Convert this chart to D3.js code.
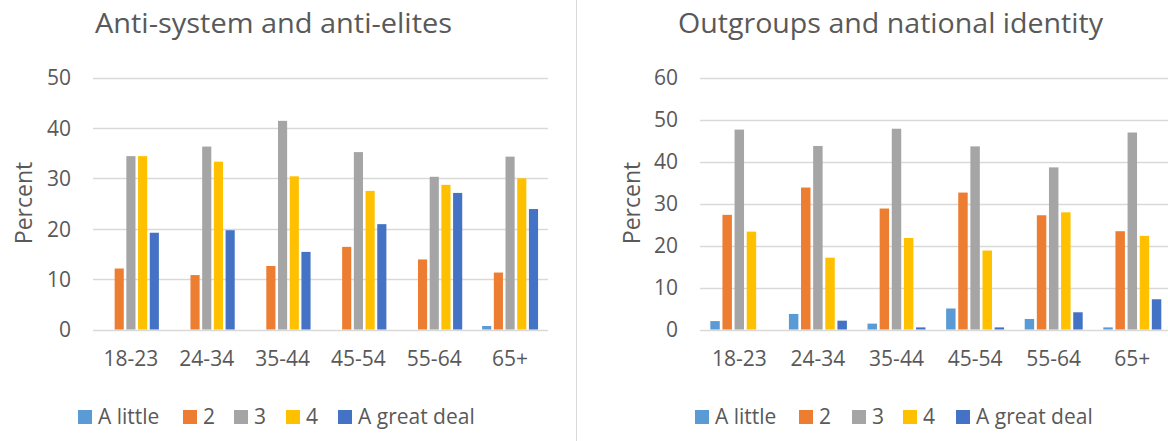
<!DOCTYPE html>
<html>
<head>
<meta charset="utf-8">
<script src="https://d3js.org/d3.v7.min.js"></script>
<style>
  body { margin: 0; background: #fff; }
  text { font-family: "Open Sans", "Noto Sans", sans-serif; fill: #595959; }
</style>
</head>
<body>
<svg width="1168" height="441"></svg>
<script>
// data
var ageGroups = ["18-23", "24-34", "35-44", "45-54", "55-64", "65+"];
var seriesNames = ["A little", "2", "3", "4", "A great deal"];
var seriesColors = ["#5B9BD5", "#ED7D31", "#A5A5A5", "#FFC000", "#4472C4"];

// Anti-system and anti-elites, one array per series (by age group)
var antiLittle = [0, 0, 0, 0, 0, 0.7];
var anti2      = [12.1, 10.8, 12.6, 16.4, 13.9, 11.3];
var anti3      = [34.4, 36.3, 41.4, 35.2, 30.3, 34.3];
var anti4      = [34.4, 33.3, 30.4, 27.5, 28.7, 30.0];
var antiGreat  = [19.2, 19.7, 15.4, 20.9, 27.1, 23.9];
var antiTicks  = [0, 10, 20, 30, 40, 50];

// Outgroups and national identity
var outLittle = [2.0, 3.7, 1.4, 5.0, 2.5, 0.5];
var out2      = [27.3, 33.8, 28.8, 32.6, 27.2, 23.4];
var out3      = [47.6, 43.7, 47.8, 43.6, 38.6, 46.9];
var out4      = [23.3, 17.1, 21.8, 18.8, 27.9, 22.3];
var outGreat  = [0, 2.1, 0.5, 0.5, 4.1, 7.2];
var outTicks  = [0, 10, 20, 30, 40, 50, 60];

var svg = d3.select("svg");

// divider between the two charts
svg.append("line")
   .attr("x1", 576.5).attr("x2", 576.5)
   .attr("y1", 0).attr("y2", 441)
   .attr("stroke", "#D9D9D9");

function drawPanel(p) {
    var y = d3.scaleLinear().domain([0, p.ticks[p.ticks.length - 1]]).range([329.5, 77.5]);
    var x0 = d3.scaleBand().domain(ageGroups).range([p.left, p.right]);
    var x1 = d3.scaleBand().domain(seriesNames).range([0, x0.bandwidth()])
               .paddingInner(0.22).paddingOuter(0.85);

    var g = svg.append("g");

    // gridlines
    g.selectAll(".grid")
     .data(p.ticks)
     .enter().append("line")
     .attr("x1", p.left).attr("x2", p.right)
     .attr("y1", function(d) { return Math.round(y(d)) + 0.5; })
     .attr("y2", function(d) { return Math.round(y(d)) + 0.5; })
     .attr("stroke", "#D9D9D9").attr("stroke-width", 1.3);

    // y axis labels (axis line removed)
    var ya = g.append("g")
     .attr("transform", "translate(" + (p.left - 22) + ",0)")
     .call(d3.axisLeft(y).tickValues(p.ticks).tickSize(0).tickPadding(0));
    ya.select(".domain").remove();
    ya.selectAll("text").attr("font-size", 21).attr("fill", "#595959")
      .style("font-family", "'Open Sans', sans-serif").attr("dy", "0.35em");

    // x axis labels
    var xa = g.append("g")
     .attr("transform", "translate(0,351)")
     .call(d3.axisBottom(x0).tickSize(0).tickPadding(0));
    xa.select(".domain").remove();
    xa.selectAll("text").attr("font-size", 21).attr("fill", "#595959")
      .style("font-family", "'Open Sans', sans-serif").attr("dy", "0.71em");

    // bars
    var groups = g.selectAll(".cat")
     .data(ageGroups)
     .enter().append("g")
     .attr("transform", function(d) { return "translate(" + x0(d) + ",0)"; });

    groups.selectAll("rect")
     .data(function(d, i) {
        return seriesNames.map(function(s, j) { return { s: s, v: p.series[j][i], c: seriesColors[j] }; });
     })
     .enter().append("rect")
     .attr("x", function(d) { return x1(d.s); })
     .attr("width", x1.bandwidth())
     .attr("y", function(d) { return y(d.v); })
     .attr("height", function(d) { return y(0) - y(d.v); })
     .attr("fill", function(d) { return d.c; });

    // title
    svg.append("text")
     .attr("x", p.titleX).attr("y", 33)
     .attr("font-size", 27)
     .attr("textLength", p.titleW).attr("lengthAdjust", "spacingAndGlyphs")
     .text(p.title);

    // y axis title
    svg.append("text")
     .attr("transform", "translate(" + p.yTitleX + ",203) rotate(-90)")
     .attr("text-anchor", "middle")
     .attr("font-size", 23)
     .text("Percent");

    // legend
    var lg = svg.append("g");
    seriesNames.forEach(function(s, j) {
        lg.append("rect")
          .attr("x", p.legendX[j]).attr("y", 410)
          .attr("width", 14).attr("height", 14)
          .attr("fill", seriesColors[j]);
        lg.append("text")
          .attr("x", p.legendX[j] + 20).attr("y", 424)
          .attr("font-size", 21)
          .text(s);
    });
}

drawPanel({
    title: "Anti-system and anti-elites", titleX: 95, titleW: 357,
    left: 93, right: 548, ticks: antiTicks, yTitleX: 32,
    series: [antiLittle, anti2, anti3, anti4, antiGreat],
    legendX: [78, 183, 234, 286, 338]
});

drawPanel({
    title: "Outgroups and national identity", titleX: 678, titleW: 425,
    left: 700, right: 1171.6, ticks: outTicks, yTitleX: 640,
    series: [outLittle, out2, out3, out4, outGreat],
    legendX: [695, 799, 852, 903, 956]
});
</script>
</body>
</html>
